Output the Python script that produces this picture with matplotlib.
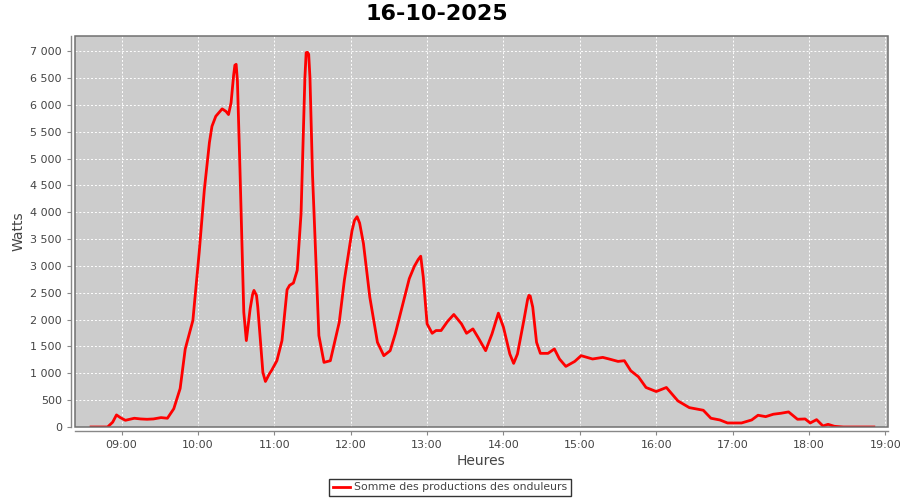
import pandas as pd
from matplotlib import pyplot as plt
from matplotlib import patches as mpatches
from matplotlib.ticker import FuncFormatter, MultipleLocator

# chart texts
title = "16-10-2025"
series_label = "Somme des productions des onduleurs"
x_label = "Heures"
y_label = "Watts"

# timestamps (HH:MM)
times = [
    "08:36", "08:42", "08:49", "08:53", "08:56", "08:59", "09:03", "09:10",
    "09:15", "09:20", "09:25", "09:31", "09:36", "09:41", "09:46", "09:50",
    "09:56", "10:01", "10:05", "10:09", "10:11", "10:14", "10:19", "10:22",
    "10:24", "10:26", "10:28", "10:29", "10:30", "10:31", "10:33", "10:36",
    "10:38", "10:41", "10:43", "10:44", "10:46", "10:47", "10:51", "10:53",
    "10:56", "10:58", "11:02", "11:06", "11:10", "11:12", "11:15", "11:18",
    "11:21", "11:23", "11:24", "11:25", "11:26", "11:27", "11:28", "11:30",
    "11:35", "11:39", "11:44", "11:51", "11:55", "12:01", "12:03", "12:05",
    "12:07", "12:10", "12:15", "12:21", "12:26", "12:31", "12:35", "12:41",
    "12:46", "12:50", "12:53", "12:55", "12:57", "13:00", "13:04", "13:07",
    "13:11", "13:16", "13:21", "13:27", "13:31", "13:36", "13:40", "13:46",
    "13:51", "13:56", "14:00", "14:05", "14:08", "14:11", "14:16", "14:19",
    "14:20", "14:21", "14:23", "14:26", "14:29", "14:35", "14:40", "14:44",
    "14:49", "14:56", "15:01", "15:10", "15:18", "15:23", "15:30", "15:35",
    "15:40", "15:46", "15:52", "16:00", "16:08", "16:13", "16:17", "16:26",
    "16:33", "16:37", "16:43", "16:50", "16:56", "17:07", "17:15", "17:20",
    "17:26", "17:32", "17:38", "17:44", "17:51", "17:57", "18:01", "18:06",
    "18:11", "18:15", "18:20", "18:27", "18:36", "18:51",
]

# power of all inverters (W)
watts = [
    0, 0, 0, 90, 225, 175, 125, 163,
    150, 144, 150, 175, 163, 340, 717, 1454,
    1984, 3262, 4417, 5300, 5602, 5789, 5927, 5880,
    5821, 6040, 6550, 6740, 6757, 6444, 4800, 2140,
    1610, 2202, 2480, 2545, 2450, 2234, 1017, 848,
    986, 1060, 1235, 1610, 2558, 2640, 2683, 2920,
    3981, 5665, 6500, 6975, 6980, 6943, 6500, 4697,
    1703, 1204, 1235, 1952, 2733, 3655, 3850, 3918,
    3800, 3419, 2420, 1578, 1329, 1422, 1735, 2296,
    2764, 2994, 3120, 3182, 2794, 1922, 1746, 1797,
    1797, 1965, 2096, 1922, 1746, 1828, 1671, 1422,
    1735, 2121, 1859, 1360, 1185, 1360, 1984, 2380,
    2452, 2440, 2234, 1578, 1372, 1372, 1454, 1267,
    1129, 1222, 1329, 1267, 1297, 1267, 1222, 1235,
    1048, 936, 736, 661, 736, 599, 487, 361,
    331, 312, 163, 131, 75, 75, 131, 219,
    193, 238, 256, 281, 144, 150, 75, 137,
    19, 50, 13, 0, 0, 0,
]

# x axis: hours as decimals
hour_ticks = list(range(9, 20))
x_min, x_max = 8.39, 19.035
y_min, y_max = 0, 7290

# convert HH:MM to decimal hours
t = pd.to_timedelta([s + ":00" for s in times]).total_seconds() / 3600.0

text_color = "#444444"
axis_color = "#888888"

fig = plt.figure(figsize=(9, 5), dpi=100)
ax = fig.add_axes([75 / 900, 1 - 427 / 500, 813 / 900, (427 - 35.7) / 500])

# plot background and grid
ax.set_facecolor("#cccccc")
ax.grid(True, color="white", linestyle=(0, (2, 2)), linewidth=0.7)
ax.set_axisbelow(True)

# data line
ax.plot(t, watts, color="#ff0000", linewidth=2, label=series_label,
        solid_joinstyle="round")

ax.set_xlim(x_min, x_max)
ax.set_ylim(y_min, y_max)
ax.set_xticks(hour_ticks)
ax.xaxis.set_major_formatter(FuncFormatter(lambda v, p: "%02d:00" % int(round(v))))
ax.yaxis.set_major_locator(MultipleLocator(500))
ax.yaxis.set_major_formatter(
    FuncFormatter(lambda v, p: "{:,.0f}".format(v).replace(",", " "))
)

# axis lines are offset from the plot area, plot area gets its own outline
for side in ["top", "right"]:
    ax.spines[side].set_visible(False)
for side in ["left", "bottom"]:
    ax.spines[side].set_position(("outward", 3))
    ax.spines[side].set_color(axis_color)
    ax.spines[side].set_linewidth(1)
outline = mpatches.Rectangle(
    (0, 0), 1, 1, transform=ax.transAxes, fill=False,
    edgecolor="#707070", linewidth=1.1, clip_on=False, zorder=5,
)
ax.add_patch(outline)

ax.tick_params(
    axis="both", direction="out", length=3, width=0.8,
    color=axis_color, labelcolor=text_color, labelsize=8,
)
ax.tick_params(axis="x", pad=3)

ax.set_xlabel(x_label, fontsize=10, color=text_color, labelpad=3)
ax.set_ylabel(y_label, fontsize=10, color=text_color, labelpad=3)

fig.text(0.485, 0.972, title, fontsize=16, fontweight="bold",
         ha="center", va="center")

# legend at the bottom, centered
leg = fig.legend(
    loc="center", bbox_to_anchor=(0.5, 1 - 487.5 / 500), frameon=True,
    fancybox=False, fontsize=7.8, handlelength=1.6, borderpad=0.35,
    handletextpad=0.3, borderaxespad=0,
)
leg.get_frame().set_edgecolor("black")
leg.get_frame().set_linewidth(1)
for text in leg.get_texts():
    text.set_color(text_color)

fig.savefig("out.png", dpi=100)
